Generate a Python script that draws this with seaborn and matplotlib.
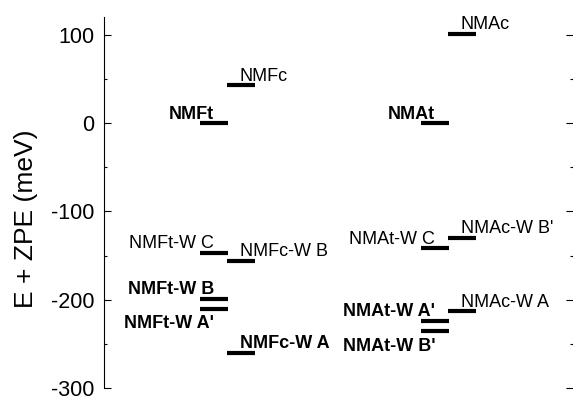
import numpy as np
import pandas as pd
import seaborn as sns
import matplotlib.pyplot as plt
from matplotlib.ticker import MultipleLocator

# energy levels (meV)
species = ["NMFt", "NMFc", "NMFt-W C", "NMFc-W B", "NMFt-W B", "NMFt-W A'", "NMFc-W A",
           "NMAt", "NMAc", "NMAt-W C", "NMAc-W B'", "NMAc-W A", "NMAt-W A'", "NMAt-W B'"]
energy = [0, 43, -147, -156, -199, -210, -260,
          0, 101, -142, -130, -213, -224, -236]
group = ["NMF"] * 7 + ["NMA"] * 7
conformer = ["t", "c", "t", "c", "t", "t", "c",
             "t", "c", "t", "c", "c", "t", "t"]
bold = [True, False, False, False, True, True, True,
        True, False, False, False, False, True, True]
below = [False, False, False, False, False, True, False,
         False, False, False, False, False, False, True]

df = pd.DataFrame({"species": species, "energy": energy, "group": group,
                   "conformer": conformer, "bold": bold, "below": below})
group_x = {"NMF": 1.0, "NMA": 9.2}
df["x"] = df["group"].map(group_x) + (df["conformer"] == "c").astype(float)

sns.set_style("ticks", {"text.color": "black", "axes.labelcolor": "black",
                        "xtick.color": "black", "ytick.color": "black",
                        "axes.edgecolor": "black"})
plt.rcParams['font.family'] = ['Liberation Sans', 'DejaVu Sans']
plt.rcParams['axes.unicode_minus'] = False

fig = plt.figure(figsize=(5.73, 3.96), dpi=100)
ax = fig.add_axes([104 / 573, 8 / 396, 469 / 573, 371 / 396])

sns.scatterplot(data=df, x="x", y="energy", marker="_", s=400, linewidth=3,
                color="black", legend=False, ax=ax, zorder=3)

for _, r in df.iterrows():
    w = "bold" if r["bold"] else "normal"
    if r["conformer"] == "t":
        ha, xt = "right", r["x"]
    else:
        ha, xt = "left", r["x"] - 0.05
    if r["below"]:
        ax.text(xt, r["energy"] - 7, r["species"], ha=ha, va="top",
                fontsize=13, fontweight=w, color="black")
    else:
        ax.text(xt, r["energy"] + 5, r["species"], ha=ha, va="baseline",
                fontsize=13, fontweight=w, color="black")

ax.set_xlim(-3.07, 14.3)
ax.set_ylim(-300, 120)
ax.yaxis.set_major_locator(MultipleLocator(100))
ax.yaxis.set_minor_locator(MultipleLocator(50))
ax.set_xticks([])
ax.set_xlabel("")
ax.set_ylabel("E + ZPE (meV)", fontsize=19, color="black")
ax.yaxis.set_label_coords(-0.14, 0.455)
ax.tick_params(axis="y", which="both", direction="in", right=True,
               labelright=False, labelsize=15.5, pad=7, width=0.8,
               color="black", labelcolor="black")
ax.tick_params(axis="y", which="major", length=5)
ax.tick_params(axis="y", which="minor", length=2.5)
for s in ["top", "bottom", "right"]:
    ax.spines[s].set_visible(False)
ax.spines["left"].set_linewidth(0.8)
ax.spines["left"].set_color("black")

fig.savefig("out.png", dpi=100)
